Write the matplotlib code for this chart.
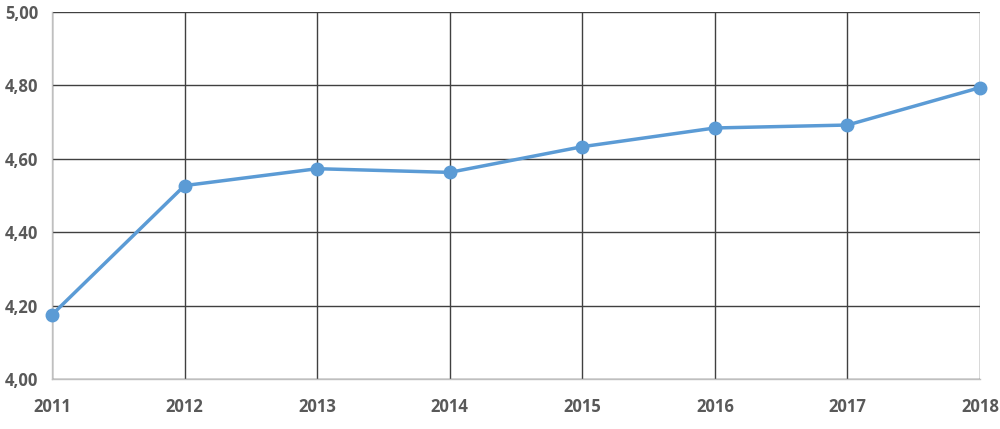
import matplotlib
matplotlib.use("Agg")
import matplotlib.pyplot as plt
from matplotlib.ticker import FuncFormatter

years = [2011, 2012, 2013, 2014, 2015, 2016, 2017, 2018]
values = [4.175, 4.527, 4.573, 4.563, 4.633, 4.684, 4.692, 4.794]
yticks = [4.00, 4.20, 4.40, 4.60, 4.80, 5.00]

plt.rcParams['font.family'] = ['Open Sans', 'DejaVu Sans']

fig = plt.figure(figsize=(10, 4.29), dpi=100)
ax = fig.add_axes([0.052, 0.1166, 0.928, 0.8554])

ax.plot(years, values, color='#5B9BD5', linewidth=2.5, marker='o', markersize=9,
        markerfacecolor='#5B9BD5', markeredgecolor='#5B9BD5', zorder=3, clip_on=False)

ax.set_xlim(years[0], years[-1])
ax.set_ylim(yticks[0], yticks[-1])
ax.set_xticks(years)
ax.set_yticks(yticks)
ax.yaxis.set_major_formatter(FuncFormatter(lambda v, p: f"{v:.2f}".replace('.', ',')))

ax.grid(True, color='#404040', linewidth=1.0, zorder=1)
for s in ['top', 'right']:
    ax.spines[s].set_visible(False)
for s in ['left', 'bottom']:
    ax.spines[s].set_color('#BFBFBF')
    ax.spines[s].set_linewidth(1.0)
    ax.spines[s].set_zorder(2)

ax.tick_params(axis='both', length=0, labelsize=12, labelcolor='#595959')
ax.tick_params(axis='x', pad=14)
ax.tick_params(axis='y', pad=10)
for lbl in ax.get_xticklabels() + ax.get_yticklabels():
    lbl.set_fontweight('bold')

fig.savefig('out.png', dpi=100, facecolor='white')
